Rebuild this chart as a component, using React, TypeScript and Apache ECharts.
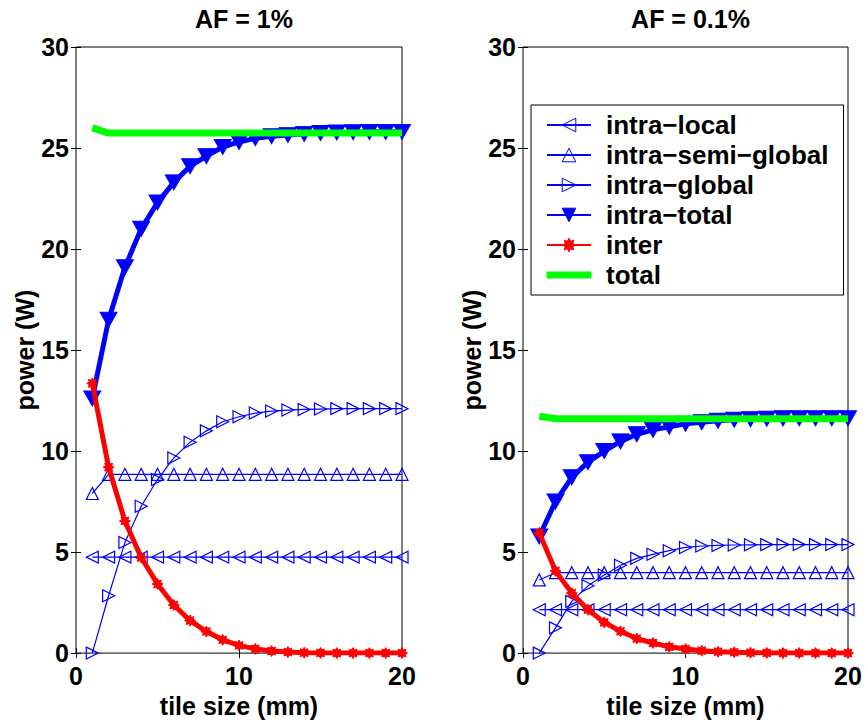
import React, { useEffect, useRef } from "react";
import * as echarts from "echarts";

// tile size (mm)
const tileSize = [1, 2, 3, 4, 5, 6, 7, 8, 9, 10, 11, 12, 13, 14, 15, 16, 17, 18, 19, 20];

const panelTitles = ["AF = 1%", "AF = 0.1%"];
const seriesNames = ["intra−local", "intra−semi−global", "intra−global", "intra−total", "inter", "total"];
const xTicks = { min: 0, max: 20, interval: 10 };
const yTicks = { min: 0, max: 30, interval: 5 };

// AF = 1%
const intraLocal1 = [4.75, 4.75, 4.75, 4.75, 4.75, 4.75, 4.75, 4.75, 4.75, 4.75, 4.75, 4.75, 4.75, 4.75, 4.75, 4.75, 4.75, 4.75, 4.75, 4.75];
const intraSemi1 = [7.9, 8.85, 8.85, 8.85, 8.85, 8.85, 8.85, 8.85, 8.85, 8.85, 8.85, 8.85, 8.85, 8.85, 8.85, 8.85, 8.85, 8.85, 8.85, 8.85];
const intraGlobal1 = [0, 2.84, 5.47, 7.27, 8.59, 9.66, 10.44, 11.0, 11.45, 11.7, 11.88, 11.98, 12.03, 12.06, 12.08, 12.1, 12.1, 12.1, 12.1, 12.1];
const intraTotal1 = [12.6, 16.5, 19.1, 21.0, 22.3, 23.3, 24.1, 24.6, 25.05, 25.3, 25.48, 25.58, 25.65, 25.7, 25.74, 25.77, 25.78, 25.8, 25.8, 25.8];
const inter1 = [13.35, 9.2, 6.54, 4.73, 3.42, 2.38, 1.61, 1.07, 0.66, 0.38, 0.21, 0.1, 0.05, 0.02, 0.01, 0, 0, 0, 0, 0];
const total1 = [26.0, 25.74, 25.74, 25.74, 25.74, 25.74, 25.74, 25.74, 25.74, 25.74, 25.74, 25.74, 25.74, 25.74, 25.74, 25.74, 25.74, 25.74, 25.74, 25.74];

// AF = 0.1%
const intraLocal2 = [2.15, 2.15, 2.15, 2.15, 2.15, 2.15, 2.15, 2.15, 2.15, 2.15, 2.15, 2.15, 2.15, 2.15, 2.15, 2.15, 2.15, 2.15, 2.15, 2.15];
const intraSemi2 = [3.62, 3.98, 3.98, 3.98, 3.98, 3.98, 3.98, 3.98, 3.98, 3.98, 3.98, 3.98, 3.98, 3.98, 3.98, 3.98, 3.98, 3.98, 3.98, 3.98];
const intraGlobal2 = [0, 1.25, 2.56, 3.33, 3.87, 4.35, 4.69, 4.89, 5.07, 5.23, 5.3, 5.33, 5.35, 5.36, 5.37, 5.37, 5.37, 5.37, 5.37, 5.37];
const intraTotal2 = [5.77, 7.5, 8.7, 9.45, 10.0, 10.48, 10.83, 11.05, 11.2, 11.35, 11.43, 11.5, 11.55, 11.58, 11.6, 11.62, 11.63, 11.63, 11.63, 11.63];
const inter2 = [5.95, 4.07, 2.97, 2.15, 1.52, 1.08, 0.72, 0.5, 0.31, 0.2, 0.12, 0.07, 0.04, 0.02, 0.01, 0, 0, 0, 0, 0];
const total2 = [11.72, 11.6, 11.6, 11.6, 11.6, 11.6, 11.6, 11.6, 11.6, 11.6, 11.6, 11.6, 11.6, 11.6, 11.6, 11.6, 11.6, 11.6, 11.6, 11.6];

const BLUE = "#0000ff";
const RED = "#ff0000";
const GREEN = "#00ff00";
const FONT = "'Liberation Sans', Arial, Helvetica, sans-serif";
const FS = 25;

// marker shapes
const TRI_LEFT = "path://M10,0L10,10L0,5Z";
const TRI_UP = "path://M5,0L10,10L0,10Z";
const TRI_RIGHT = "path://M0,0L10,5L0,10Z";
const TRI_DOWN = "path://M0,0L10,0L5,10Z";
const asterisk = (() => {
  const pts: string[] = [];
  for (let k = 0; k < 16; k++) {
    const r = k % 2 === 0 ? 10 : 6;
    const a = (k * Math.PI) / 8;
    pts.push(`${(10 + r * Math.sin(a)).toFixed(2)},${(10 - r * Math.cos(a)).toFixed(2)}`);
  }
  return "path://M" + pts.join("L") + "Z";
})();

const pairs = (ys: number[]) => tileSize.map((x, i) => [x, ys[i]]);

function panelSeries(axis: number, vals: number[][]) {
  const hollow = (name: string, symbol: string, ys: number[]) => ({
    name,
    type: "line",
    xAxisIndex: axis,
    yAxisIndex: axis,
    data: pairs(ys),
    symbol,
    symbolSize: [12, 12],
    lineStyle: { color: BLUE, width: 1.2 },
    itemStyle: { color: "rgba(255,255,255,0)", borderColor: BLUE, borderWidth: 1.2 },
    emphasis: { disabled: true },
    z: 2,
  });
  return [
    hollow(seriesNames[0], TRI_LEFT, vals[0]),
    hollow(seriesNames[1], TRI_UP, vals[1]),
    hollow(seriesNames[2], TRI_RIGHT, vals[2]),
    {
      name: seriesNames[3],
      type: "line",
      xAxisIndex: axis,
      yAxisIndex: axis,
      data: pairs(vals[3]),
      symbol: TRI_DOWN,
      symbolSize: [17, 15],
      lineStyle: { color: BLUE, width: 5 },
      itemStyle: { color: BLUE, borderColor: BLUE, borderWidth: 1 },
      emphasis: { disabled: true },
      z: 3,
    },
    {
      name: seriesNames[4],
      type: "line",
      xAxisIndex: axis,
      yAxisIndex: axis,
      data: pairs(vals[4]),
      symbol: asterisk,
      symbolSize: 11,
      lineStyle: { color: RED, width: 5 },
      itemStyle: { color: RED, borderColor: RED, borderWidth: 1 },
      emphasis: { disabled: true },
      z: 4,
    },
    {
      name: seriesNames[5],
      type: "line",
      xAxisIndex: axis,
      yAxisIndex: axis,
      data: pairs(vals[5]),
      symbol: "none",
      lineStyle: { color: GREEN, width: 7 },
      itemStyle: { color: GREEN, borderColor: GREEN },
      emphasis: { disabled: true },
      z: 5,
    },
  ];
}

const tickLabel = { fontFamily: FONT, fontSize: FS, fontWeight: "bold", color: "#000" };
const nameStyle = { fontFamily: FONT, fontSize: FS, fontWeight: "bold", color: "#000" };

function xAxes(grid: number) {
  const base = {
    type: "value",
    gridIndex: grid,
    ...xTicks,
    splitLine: { show: false },
    axisLine: { show: false },
    axisTick: { show: true, inside: true, length: 5, lineStyle: { color: "#000" } },
  };
  return [
    {
      ...base,
      position: "bottom",
      name: "tile size (mm)",
      nameLocation: "middle",
      nameGap: 37,
      nameTextStyle: nameStyle,
      axisLabel: { ...tickLabel, margin: 10 },
    },
    { ...base, position: "top", axisLabel: { show: false } },
  ];
}

function yAxes(grid: number) {
  const base = {
    type: "value",
    gridIndex: grid,
    ...yTicks,
    splitLine: { show: false },
    axisLine: { show: false },
    axisTick: { show: true, inside: true, length: 5, lineStyle: { color: "#000" } },
  };
  return [
    {
      ...base,
      position: "left",
      name: "power (W)",
      nameLocation: "middle",
      nameGap: 37,
      nameTextStyle: nameStyle,
      axisLabel: { ...tickLabel, margin: 7 },
    },
    { ...base, position: "right", axisLabel: { show: false } },
  ];
}

export default function App() {
  const ref = useRef<HTMLDivElement>(null);

  useEffect(() => {
    if (!ref.current) return;
    const chart = echarts.init(ref.current, undefined, { renderer: "svg" });
    const grids = [
      { left: 76, top: 47, width: 326, height: 609 },
      { left: 523, top: 47, width: 325, height: 609 },
    ];
    chart.setOption({
      animation: false,
      backgroundColor: "#fff",
      title: panelTitles.map((text, i) => ({
        text,
        left: grids[i].left + grids[i].width / 2,
        top: 1,
        textAlign: "center",
        textStyle: { fontFamily: FONT, fontSize: FS, fontWeight: "bold", color: "#000" },
      })),
      grid: grids.map((g) => ({ ...g, show: true, borderColor: "#000", borderWidth: 1, backgroundColor: "transparent" })),
      xAxis: [...xAxes(0), ...xAxes(1)],
      yAxis: [...yAxes(0), ...yAxes(1)],
      legend: {
        orient: "vertical",
        left: 531,
        top: 105,
        padding: [7, 15, 7, 15],
        backgroundColor: "#fff",
        borderColor: "#000",
        borderWidth: 1,
        borderRadius: 0,
        itemWidth: 44,
        itemHeight: 17,
        itemGap: 4,
        selectedMode: false,
        itemStyle: { borderWidth: 1 },
        textStyle: { fontFamily: FONT, fontSize: 26, fontWeight: "bold", color: "#000", padding: [0, 0, 0, 10] },
        data: [
          ...seriesNames.slice(0, 5),
          { name: seriesNames[5], icon: "path://M0,0h44v6h-44z" },
        ],
      },
      series: [
        ...panelSeries(0, [intraLocal1, intraSemi1, intraGlobal1, intraTotal1, inter1, total1]),
        ...panelSeries(2, [intraLocal2, intraSemi2, intraGlobal2, intraTotal2, inter2, total2]),
      ],
    });
    return () => chart.dispose();
  }, []);

  return (
    <div
      ref={ref}
      style={{ position: "fixed", left: 0, top: 0, width: 865, height: 723, background: "#fff" }}
    />
  );
}
